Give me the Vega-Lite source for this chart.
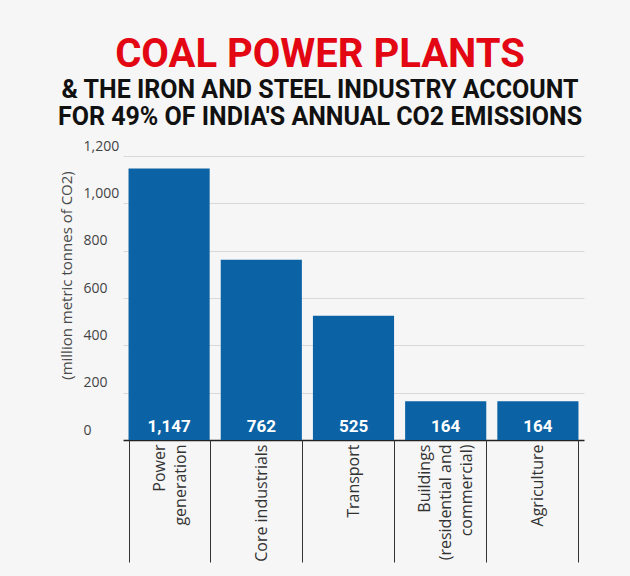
{
  "$schema": "https://vega.github.io/schema/vega-lite/v6.json",
  "width": 508,
  "height": 284,
  "autosize": {"type": "none"},
  "padding": {"left": 83, "top": 156, "right": 39, "bottom": 136},
  "background": "#f6f6f6",
  "title": {
    "text": "COAL POWER PLANTS",
    "subtitle": ["& THE IRON AND STEEL INDUSTRY ACCOUNT", "FOR 49% OF INDIA'S ANNUAL CO2 EMISSIONS"],
    "anchor": "middle",
    "dx": -17,
    "offset": 9,
    "font": "Roboto",
    "fontSize": 40,
    "fontWeight": "bold",
    "color": "#e30613",
    "subtitleFont": "Roboto",
    "subtitleFontSize": 25,
    "subtitleFontWeight": "bold",
    "subtitleColor": "#111111",
    "subtitleLineHeight": 27,
    "subtitlePadding": 3
  },
  "data": {
    "values": [
      {"sector": "Power generation", "value": 1147},
      {"sector": "Core industrials", "value": 762},
      {"sector": "Transport", "value": 525},
      {"sector": "Buildings (residential and commercial)", "value": 164},
      {"sector": "Agriculture", "value": 164}
    ]
  },
  "encoding": {
    "x": {
      "field": "sector",
      "type": "nominal",
      "sort": null,
      "scale": {"range": [40, 501], "paddingInner": 0.12, "paddingOuter": 0.06},
      "axis": {
        "title": null,
        "domain": false,
        "ticks": true,
        "tickBand": "extent",
        "tickSize": 122,
        "tickColor": "#333333",
        "tickWidth": 1,
        "labelAngle": -90,
        "labelAlign": "right",
        "labelBaseline": "middle",
        "labelPadding": -118,
        "labelFont": "Open Sans",
        "labelFontSize": 16,
        "labelLineHeight": 21,
        "labelColor": "#333333",
        "labelLimit": 200,
        "labelOffset": {
          "condition": [
            {"test": "datum.value == 'Power generation'", "value": -9.5},
            {"test": "datum.value == 'Buildings (residential and commercial)'", "value": -21}
          ],
          "value": 0
        },
        "labelExpr": "datum.value == 'Power generation' ? ['Power', 'generation'] : datum.value == 'Buildings (residential and commercial)' ? ['Buildings', '(residential and', 'commercial)'] : datum.value"
      }
    },
    "y": {
      "field": "value",
      "type": "quantitative",
      "scale": {"domain": [0, 1200]},
      "axis": {
        "title": "(million metric tonnes of CO2)",
        "titleFont": "Open Sans",
        "titleFontSize": 15,
        "titleFontWeight": "normal",
        "titleColor": "#4a4a4a",
        "titleX": -17,
        "titleY": 119,
        "titleAngle": -90,
        "titleAlign": "center",
        "titleBaseline": "middle",
        "domain": false,
        "ticks": false,
        "tickSize": 0,
        "values": [0, 200, 400, 600, 800, 1000, 1200],
        "format": ",d",
        "labelOverlap": false,
        "labelFlush": false,
        "labelAlign": "left",
        "labelBaseline": "bottom",
        "labelPadding": 0,
        "labelOffset": -3,
        "labelFont": "Open Sans",
        "labelFontSize": 14,
        "labelColor": "#444444",
        "grid": true,
        "gridColor": {"condition": {"test": "datum.value === 0", "value": "#222222"}, "value": "#d9d9d9"},
        "gridWidth": {"condition": {"test": "datum.value === 0", "value": 1.5}, "value": 1}
      }
    }
  },
  "layer": [
    {"mark": {"type": "bar", "color": "#0b63a5"}},
    {
      "mark": {"type": "text", "color": "white", "fontWeight": "bold", "font": "Roboto", "fontSize": 17, "baseline": "bottom", "dy": -4},
      "encoding": {
        "y": {"datum": 0},
        "text": {"field": "value", "type": "quantitative", "format": ","}
      }
    }
  ],
  "config": {"view": {"stroke": null}}
}
